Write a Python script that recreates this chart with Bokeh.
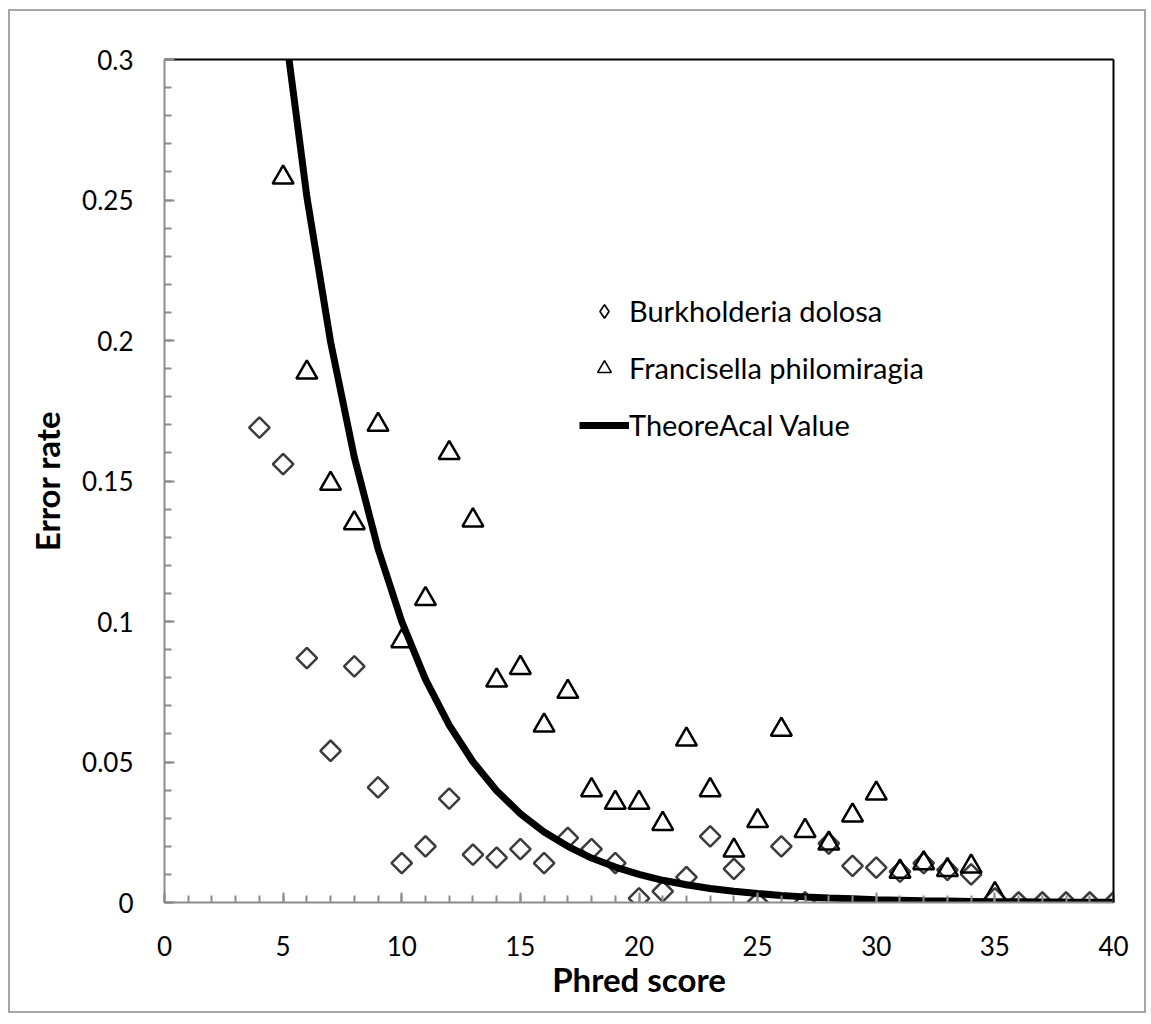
import math
from bokeh.plotting import figure
from bokeh.models import LinearAxis, FixedTicker, Legend, LegendItem, Range1d
from bokeh.embed import file_html
from bokeh.resources import INLINE

# ---- data ----
phred_burk = list(range(4, 41))
err_burk = [0.169, 0.156, 0.087, 0.054, 0.084, 0.041, 0.014, 0.020, 0.037, 0.017,
            0.016, 0.019, 0.014, 0.023, 0.019, 0.014, 0.0015, 0.004, 0.009, 0.0235,
            0.012, 0.0, 0.020, 0.0, 0.021, 0.013, 0.0124, 0.011, 0.014, 0.0116,
            0.010, 0.0015, 0.0, 0.0, 0.0, 0.0, 0.0]

phred_fran = list(range(5, 36))
err_fran = [0.258, 0.1886, 0.149, 0.135, 0.170, 0.093, 0.108, 0.160, 0.136, 0.079,
            0.0835, 0.063, 0.075, 0.040, 0.0355, 0.0355, 0.028, 0.058, 0.040, 0.0185,
            0.029, 0.0615, 0.0255, 0.021, 0.031, 0.0388, 0.011, 0.014, 0.0116, 0.0128,
            0.003]

phred_theory = list(range(5, 41))
err_theory = [0.3162, 0.2512, 0.1995, 0.1585, 0.1259, 0.1, 0.0794, 0.0631, 0.0501, 0.0398,
              0.0316, 0.0251, 0.0200, 0.0158, 0.0126, 0.0100, 0.0079, 0.0063, 0.0050, 0.0040,
              0.0032, 0.0025, 0.0020, 0.0016, 0.0013, 0.0010, 0.0008, 0.0006, 0.0005, 0.0004,
              0.0003, 0.00025, 0.0002, 0.00016, 0.00013, 0.0001]

series_names = ["Burkholderia dolosa", "Francisella philomiragia", "TheoreAcal Value"]

x_ticks = [0, 5, 10, 15, 20, 25, 30, 35, 40]
y_ticks = [0, 0.05, 0.1, 0.15, 0.2, 0.25, 0.3]
y_tick_labels = ["0", "0.05", "0.1", "0.15", "0.2", "0.25", "0.3"]

x_minor = list(range(0, 41))
y_minor = [round(i * 0.01, 2) for i in range(0, 31)]

FONT = "Lato"
AXIS_GREY = "#8c8c8c"

p = figure(width=1138, height=1004,
           x_range=Range1d(0, 40), y_range=Range1d(0, 0.3),
           output_backend="svg", toolbar_location=None,
           min_border_left=154, min_border_top=48,
           min_border_right=35, min_border_bottom=113)
p.styles = {"border": "2px solid #a6a6a6", "margin-left": "8px", "margin-top": "9px"}
p.xgrid.visible = False
p.ygrid.visible = False
p.outline_line_color = None
p.background_fill_color = "white"
p.border_fill_color = "white"

p.xaxis.ticker = FixedTicker(ticks=x_ticks, minor_ticks=x_minor)
p.yaxis.ticker = FixedTicker(ticks=y_ticks, minor_ticks=y_minor)
p.yaxis.major_label_overrides = dict(zip(y_ticks, y_tick_labels))
p.xaxis.axis_label = "Phred score"
p.yaxis.axis_label = "Error rate"

for ax in (p.xaxis[0], p.yaxis[0]):
    ax.axis_line_color = AXIS_GREY
    ax.axis_line_width = 2
    ax.major_tick_line_color = AXIS_GREY
    ax.major_tick_line_width = 2
    ax.major_tick_in = 10
    ax.major_tick_out = 0
    ax.minor_tick_line_color = AXIS_GREY
    ax.minor_tick_line_width = 2
    ax.minor_tick_in = 7
    ax.minor_tick_out = 0
    ax.major_label_text_font = FONT
    ax.major_label_text_font_size = "26px"
    ax.major_label_text_color = "black"
    ax.axis_label_text_font = FONT
    ax.axis_label_text_font_size = "33px"
    ax.axis_label_text_font_style = "bold"
    ax.axis_label_text_color = "black"

p.xaxis.major_label_standoff = 33
p.yaxis.major_label_standoff = 31
p.xaxis.axis_label_standoff = 0
p.yaxis.axis_label_standoff = 12

for loc in ("above", "right"):
    ax = LinearAxis(ticker=FixedTicker(ticks=[]), axis_line_color="black", axis_line_width=2,
                    major_tick_line_color=None, minor_tick_line_color=None,
                    major_label_text_font_size="0px")
    p.add_layout(ax, loc)

r_burk = p.scatter(phred_burk, err_burk, marker="square", angle=math.pi / 4, size=14.5,
                   fill_color=None, line_color="#3c3c3c", line_width=2.5)
r_fran = p.scatter(phred_fran, err_fran, marker="triangle", size=21,
                   fill_color=None, line_color="black", line_width=2.5)
r_theory = p.line(phred_theory, err_theory, line_color="black", line_width=7)

# legend-only glyphs (hidden in the plot area)
leg_d = p.scatter(phred_burk[:1], err_burk[:1], marker="diamond", fill_color=None,
                  line_color="black", line_width=1.6, visible=False)
leg_t = p.scatter(phred_fran[:1], err_fran[:1], marker="triangle", fill_color=None,
                  line_color="black", line_width=1.6, visible=False)

legend = Legend(items=[LegendItem(label=series_names[0], renderers=[leg_d]),
                       LegendItem(label=series_names[1], renderers=[leg_t]),
                       LegendItem(label=series_names[2], renderers=[r_theory])],
                location=(415, 460), glyph_width=50, glyph_height=34, spacing=22,
                padding=0, margin=0, label_standoff=0,
                border_line_color=None, background_fill_alpha=0,
                inactive_fill_alpha=0,
                label_text_font=FONT, label_text_font_size="29px", label_text_color="black")
p.add_layout(legend)

open("out.html", "w").write(file_html(p, INLINE))
